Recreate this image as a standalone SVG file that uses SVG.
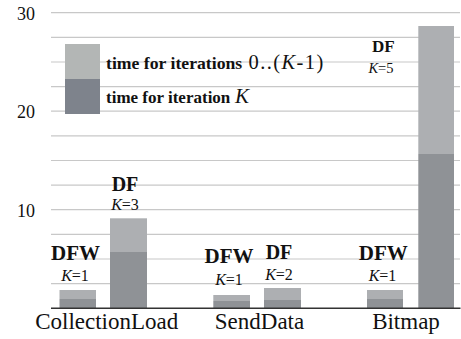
<svg xmlns="http://www.w3.org/2000/svg" width="461" height="339" viewBox="0 0 461 339">
<style>
.grid{stroke:#c8c8c8;stroke-width:1.2}
.axis{stroke:#333;stroke-width:1.5}
.lt{fill:#adafb2}
.dk{fill:#8f9296}
</style>
<g id="grid">
<line class="grid" x1="51" y1="12.7" x2="460" y2="12.7"/>
<line class="grid" x1="51" y1="37.3" x2="460" y2="37.3"/>
<line class="grid" x1="51" y1="62" x2="460" y2="62"/>
<line class="grid" x1="51" y1="86.6" x2="460" y2="86.6"/>
<line class="grid" x1="51" y1="111.2" x2="460" y2="111.2"/>
<line class="grid" x1="51" y1="135.8" x2="460" y2="135.8"/>
<line class="grid" x1="51" y1="160.5" x2="460" y2="160.5"/>
<line class="grid" x1="51" y1="185.1" x2="460" y2="185.1"/>
<line class="grid" x1="51" y1="209.7" x2="460" y2="209.7"/>
<line class="grid" x1="51" y1="234.4" x2="460" y2="234.4"/>
<line class="grid" x1="51" y1="259" x2="460" y2="259"/>
<line class="grid" x1="51" y1="283.6" x2="460" y2="283.6"/>
</g>
<g font-family="Liberation Serif, Times New Roman, serif" fill="#111">
<g id="ticks" font-size="18" text-anchor="end">
<text x="35" y="20">30</text>
<text x="35" y="118">20</text>
<text x="35" y="217">10</text>
</g>
<g id="legend">
<rect x="65" y="44" width="35" height="35" fill="#b3b6b5"/>
<rect x="65" y="79" width="35" height="35" fill="#7e838c"/>
<text x="106" y="69" font-size="17.7" font-weight="bold">time for iterations</text>
<text x="248.5" y="69" font-size="20.5" letter-spacing="1.4">0..(<tspan font-style="italic">K</tspan>-1)</text>
<text x="106" y="103" font-size="17" font-weight="bold">time for iteration</text>
<text x="235" y="103" font-size="21" font-style="italic">K</text>
</g>
<g id="bar-collectionload-dfw" text-anchor="middle">
<rect class="lt" x="59.5" y="290" width="36.5" height="9"/>
<rect class="dk" x="59.5" y="299" width="36.5" height="9.3"/>
<text x="75.5" y="260" font-size="21" font-weight="bold">DFW</text>
<text x="75" y="281" font-size="16"><tspan font-style="italic">K</tspan>=1</text>
</g>
<g id="bar-collectionload-df" text-anchor="middle">
<rect class="lt" x="110" y="218.3" width="37" height="33.7"/>
<rect class="dk" x="110" y="252" width="37" height="56.3"/>
<text x="125" y="191" font-size="20" font-weight="bold">DF</text>
<text x="125" y="210" font-size="16"><tspan font-style="italic">K</tspan>=3</text>
</g>
<g id="bar-senddata-dfw" text-anchor="middle">
<rect class="lt" x="213.3" y="295" width="36.7" height="6"/>
<rect class="dk" x="213.3" y="301" width="36.7" height="7.3"/>
<text x="229" y="263" font-size="21" font-weight="bold">DFW</text>
<text x="229" y="285" font-size="16"><tspan font-style="italic">K</tspan>=1</text>
</g>
<g id="bar-senddata-df" text-anchor="middle">
<rect class="lt" x="264" y="288" width="37" height="12"/>
<rect class="dk" x="264" y="300" width="37" height="8.3"/>
<text x="279" y="259" font-size="20" font-weight="bold">DF</text>
<text x="279" y="280" font-size="16"><tspan font-style="italic">K</tspan>=2</text>
</g>
<g id="bar-bitmap-dfw" text-anchor="middle">
<rect class="lt" x="367" y="290" width="36" height="9"/>
<rect class="dk" x="367" y="299" width="36" height="9.3"/>
<text x="383.3" y="260" font-size="21" font-weight="bold">DFW</text>
<text x="382.5" y="281" font-size="16"><tspan font-style="italic">K</tspan>=1</text>
</g>
<g id="bar-bitmap-df" text-anchor="middle">
<rect class="lt" x="418.3" y="26" width="35.7" height="128"/>
<rect class="dk" x="418.3" y="154" width="35.7" height="154.3"/>
<text x="383.3" y="51.7" font-size="17" font-weight="bold">DF</text>
<text x="381" y="73" font-size="14.5"><tspan font-style="italic">K</tspan>=5</text>
</g>
<g id="axis" text-anchor="middle">
<line class="axis" x1="51" y1="308.3" x2="460.5" y2="308.3"/>
<text x="106.7" y="329" font-size="23">CollectionLoad</text>
<text x="259.5" y="329" font-size="23">SendData</text>
<text x="406" y="329" font-size="23">Bitmap</text>
</g>
</g>
</svg>
